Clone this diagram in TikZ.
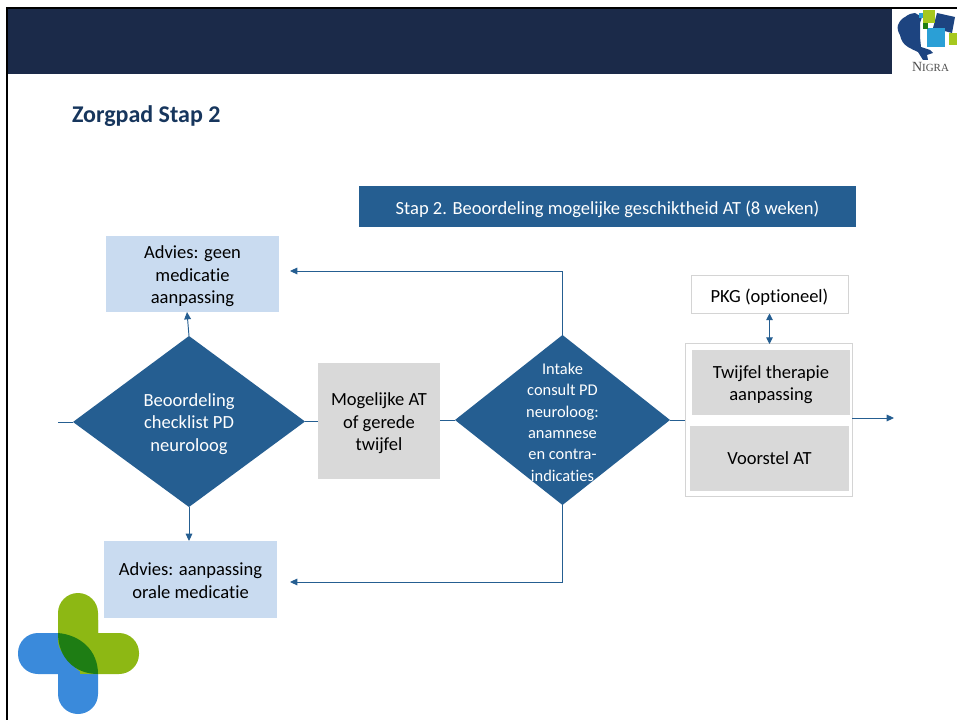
\documentclass[tikz,border=0pt]{standalone}
\usepackage{fontspec}
\setmainfont[Ligatures=NoCommon]{Carlito}
\newfontfamily\logofont{Liberation Serif}
\usetikzlibrary{shapes.geometric,arrows.meta}
\definecolor{navy}{HTML}{1B2A49}
\definecolor{flowblue}{HTML}{255E91}
\definecolor{lightblue}{HTML}{C9DBF0}
\definecolor{greybox}{HTML}{D9D9D9}
\definecolor{framegrey}{HTML}{D4D4D4}
\definecolor{titlecol}{HTML}{17365D}
\definecolor{crossgreen}{HTML}{8DB814}
\definecolor{crossblue}{HTML}{3A8ADB}
\definecolor{crossdark}{HTML}{1E7D14}
\definecolor{brainblue}{HTML}{1D4480}
\definecolor{logocyan}{HTML}{2A9FD6}
\definecolor{logogreen}{HTML}{A6C81E}
\tikzset{
  x=0.75pt,y=-0.75pt,
  px/.style={inner sep=0pt,outer sep=0pt,align=center},
  bodytext/.style={font=\fontsize{13.9}{16.9}\selectfont},
  lightbox/.style={px,fill=lightblue,text=black,bodytext},
  greyrect/.style={px,fill=greybox,text=black,bodytext},
  framebox/.style={px,draw=framegrey,line width=0.75pt,fill=white,bodytext},
  link/.style={draw=flowblue,line width=0.7pt},
  arrowlink/.style={link,-{Triangle[length=5.5pt,width=5pt]}},
  bothlink/.style={link,{Triangle[length=5pt,width=5pt]}-{Triangle[length=5pt,width=5pt]}}
}
\begin{document}
\begin{tikzpicture}
\useasboundingbox (0,0) rectangle (957,720);
\fill[white] (0,0) rectangle (957,720);
% header
\fill[navy] (7,8) rectangle (892,74);
\draw[black,line width=2pt] (7,720) -- (7,8) -- (957,8);
% NIGRA logo
\fill[brainblue] (898,25) .. controls (900,20) and (903,18) .. (905,17) .. controls (909,14) and (912,13) .. (915,13) -- (922,17) -- (920,23) -- (920,37) -- (921,47) -- (930,50) -- (933,53) -- (927,55) -- (928,60) -- (923,60) -- (918,52) .. controls (914,50) and (911,49) .. (908,47) .. controls (903,44) and (901,40) .. (900,35) .. controls (898,32) and (897,28) .. (898,25) -- cycle;
\fill[logocyan] (919,13) rectangle (923,18);
\fill[brainblue] (937,13) -- (955,17) -- (952,33) -- (933,28) -- cycle;
\fill[logogreen] (923,10) rectangle (935,23);
\fill[logogreen] (949,33) rectangle (957,45);
\fill[logocyan] (927,28) rectangle (945,47);
\fill[crossdark] (923,23) rectangle (928,29);
\node[px,text=black!70,font=\logofont\fontsize{10.5}{11}\selectfont] (nigra) at (930.5,67) {N\fontsize{8.2}{11}\selectfont IGRA};
% title
\node[px,anchor=west,text=titlecol,font=\bfseries\fontsize{15.1}{18}\selectfont] (title) at (72,116.5) {\fontsize{18}{20}\selectfont Zorgpad Stap 2};
% banner
\node[px,fill=flowblue,text=white,minimum width=372.75pt,minimum height=30.75pt,font=\fontsize{13.9}{16}\selectfont] (banner) at (607.5,206.5) {\rule{0pt}{14pt}Stap 2. Beoordeling mogelijke geschiktheid AT (8 weken)};
% boxes
\node[lightbox,minimum width=129.75pt,minimum height=57pt] (adv1) at (192.5,274) {\rule{0pt}{13pt}Advies: geen\\medicatie\\aanpassing};
\node[lightbox,minimum width=129.75pt,minimum height=57.75pt] (adv2) at (190.5,579.5) {\rule{0pt}{11pt}Advies: aanpassing\\orale medicatie};
\node[greyrect,minimum width=91.5pt,minimum height=87pt] (mog) at (379,421) {\rule{0pt}{13pt}Mogelijke AT\\of gerede\\twijfel};
\node[framebox,minimum width=117.75pt,minimum height=28.5pt] (pkg) at (769.5,294.5) {\rule{0pt}{14pt}PKG (optioneel)};
\node[framebox,minimum width=125.25pt,minimum height=114pt] (outer) at (768.5,420) {};
\node[greyrect,minimum width=118.5pt,minimum height=48.75pt] (twijfel) at (771,382.5) {\rule{0pt}{13pt}Twijfel therapie\\aanpassing};
\node[greyrect,minimum width=119.25pt,minimum height=48.75pt] (voorstel) at (769.5,458.5) {\raisebox{-0.5pt}{Voorstel AT}};
% decisions
\path[fill=flowblue] (73,422) coordinate (d1w) -- (189,336) coordinate (d1n) -- (305,421.5) coordinate (d1e) -- (189,507) coordinate (d1s) -- cycle;
\node[px,text=white,bodytext] (d1) at (189,421.5) {\rule{0pt}{13pt}Beoordeling\\checklist PD\\neuroloog};
\path[fill=flowblue] (455,420) coordinate (d2w) -- (562.5,335) coordinate (d2n) -- (670,420) coordinate (d2e) -- (562.5,505) coordinate (d2s) -- cycle;
\node[px,text=white,font=\fontsize{12.3}{16}\selectfont] (d2) at (562.5,420) {\rule{0pt}{12pt}Intake\\consult PD\\neuroloog:\\anamnese\\en contra-\\indicaties};
% free ends
\coordinate (inleft) at (58,422);
\coordinate (outright) at (894,418);
\coordinate (up1) at (562.5,271);
\coordinate (up2) at (290,271);
\coordinate (dn1) at (562.5,582);
\coordinate (dn2) at (290,582);
% connectors
\draw[link] (inleft) -- (d1w);
\draw[link] (d1e) -- (mog.west |- d1e);
\draw[link] (mog.east |- d2w) -- (d2w);
\draw[link] (d2e) -- (outer.west |- d2e);
\draw[arrowlink] (outer.east |- outright) -- (outright);
\draw[arrowlink] (d1n) -- (adv1.south -| 187,0);
\draw[arrowlink] (d1s) -- (adv2.north -| d1s);
\draw[arrowlink] (d2n) -- (up1) -- (up2);
\draw[arrowlink] (d2s) -- (dn1) -- (dn2);
\draw[bothlink] (pkg.south) -- (outer.north -| pkg.south);
% cross logo
\fill[crossblue,rounded corners=15pt] (18,633) rectangle (98,674);
\fill[crossblue] (58,633) rectangle (98,674);
\fill[crossblue,rounded corners=15pt] (58,640) rectangle (98,714);
\fill[crossblue] (58,633) rectangle (98,680);
\fill[crossgreen,rounded corners=15pt] (58,593) rectangle (98,660);
\fill[crossgreen,rounded corners=15pt] (70,633) rectangle (139,674);
\fill[crossgreen] (58,620) -- (98,620) -- (98,674) .. controls (98,650) and (80,635) .. (58,633) -- cycle;
\fill[crossgreen] (80,633) rectangle (98,674);
\fill[crossdark] (58,633) .. controls (80,635) and (98,650) .. (98,674) .. controls (75,674) and (58,658) .. (58,633) -- cycle;
\end{tikzpicture}
\end{document}
